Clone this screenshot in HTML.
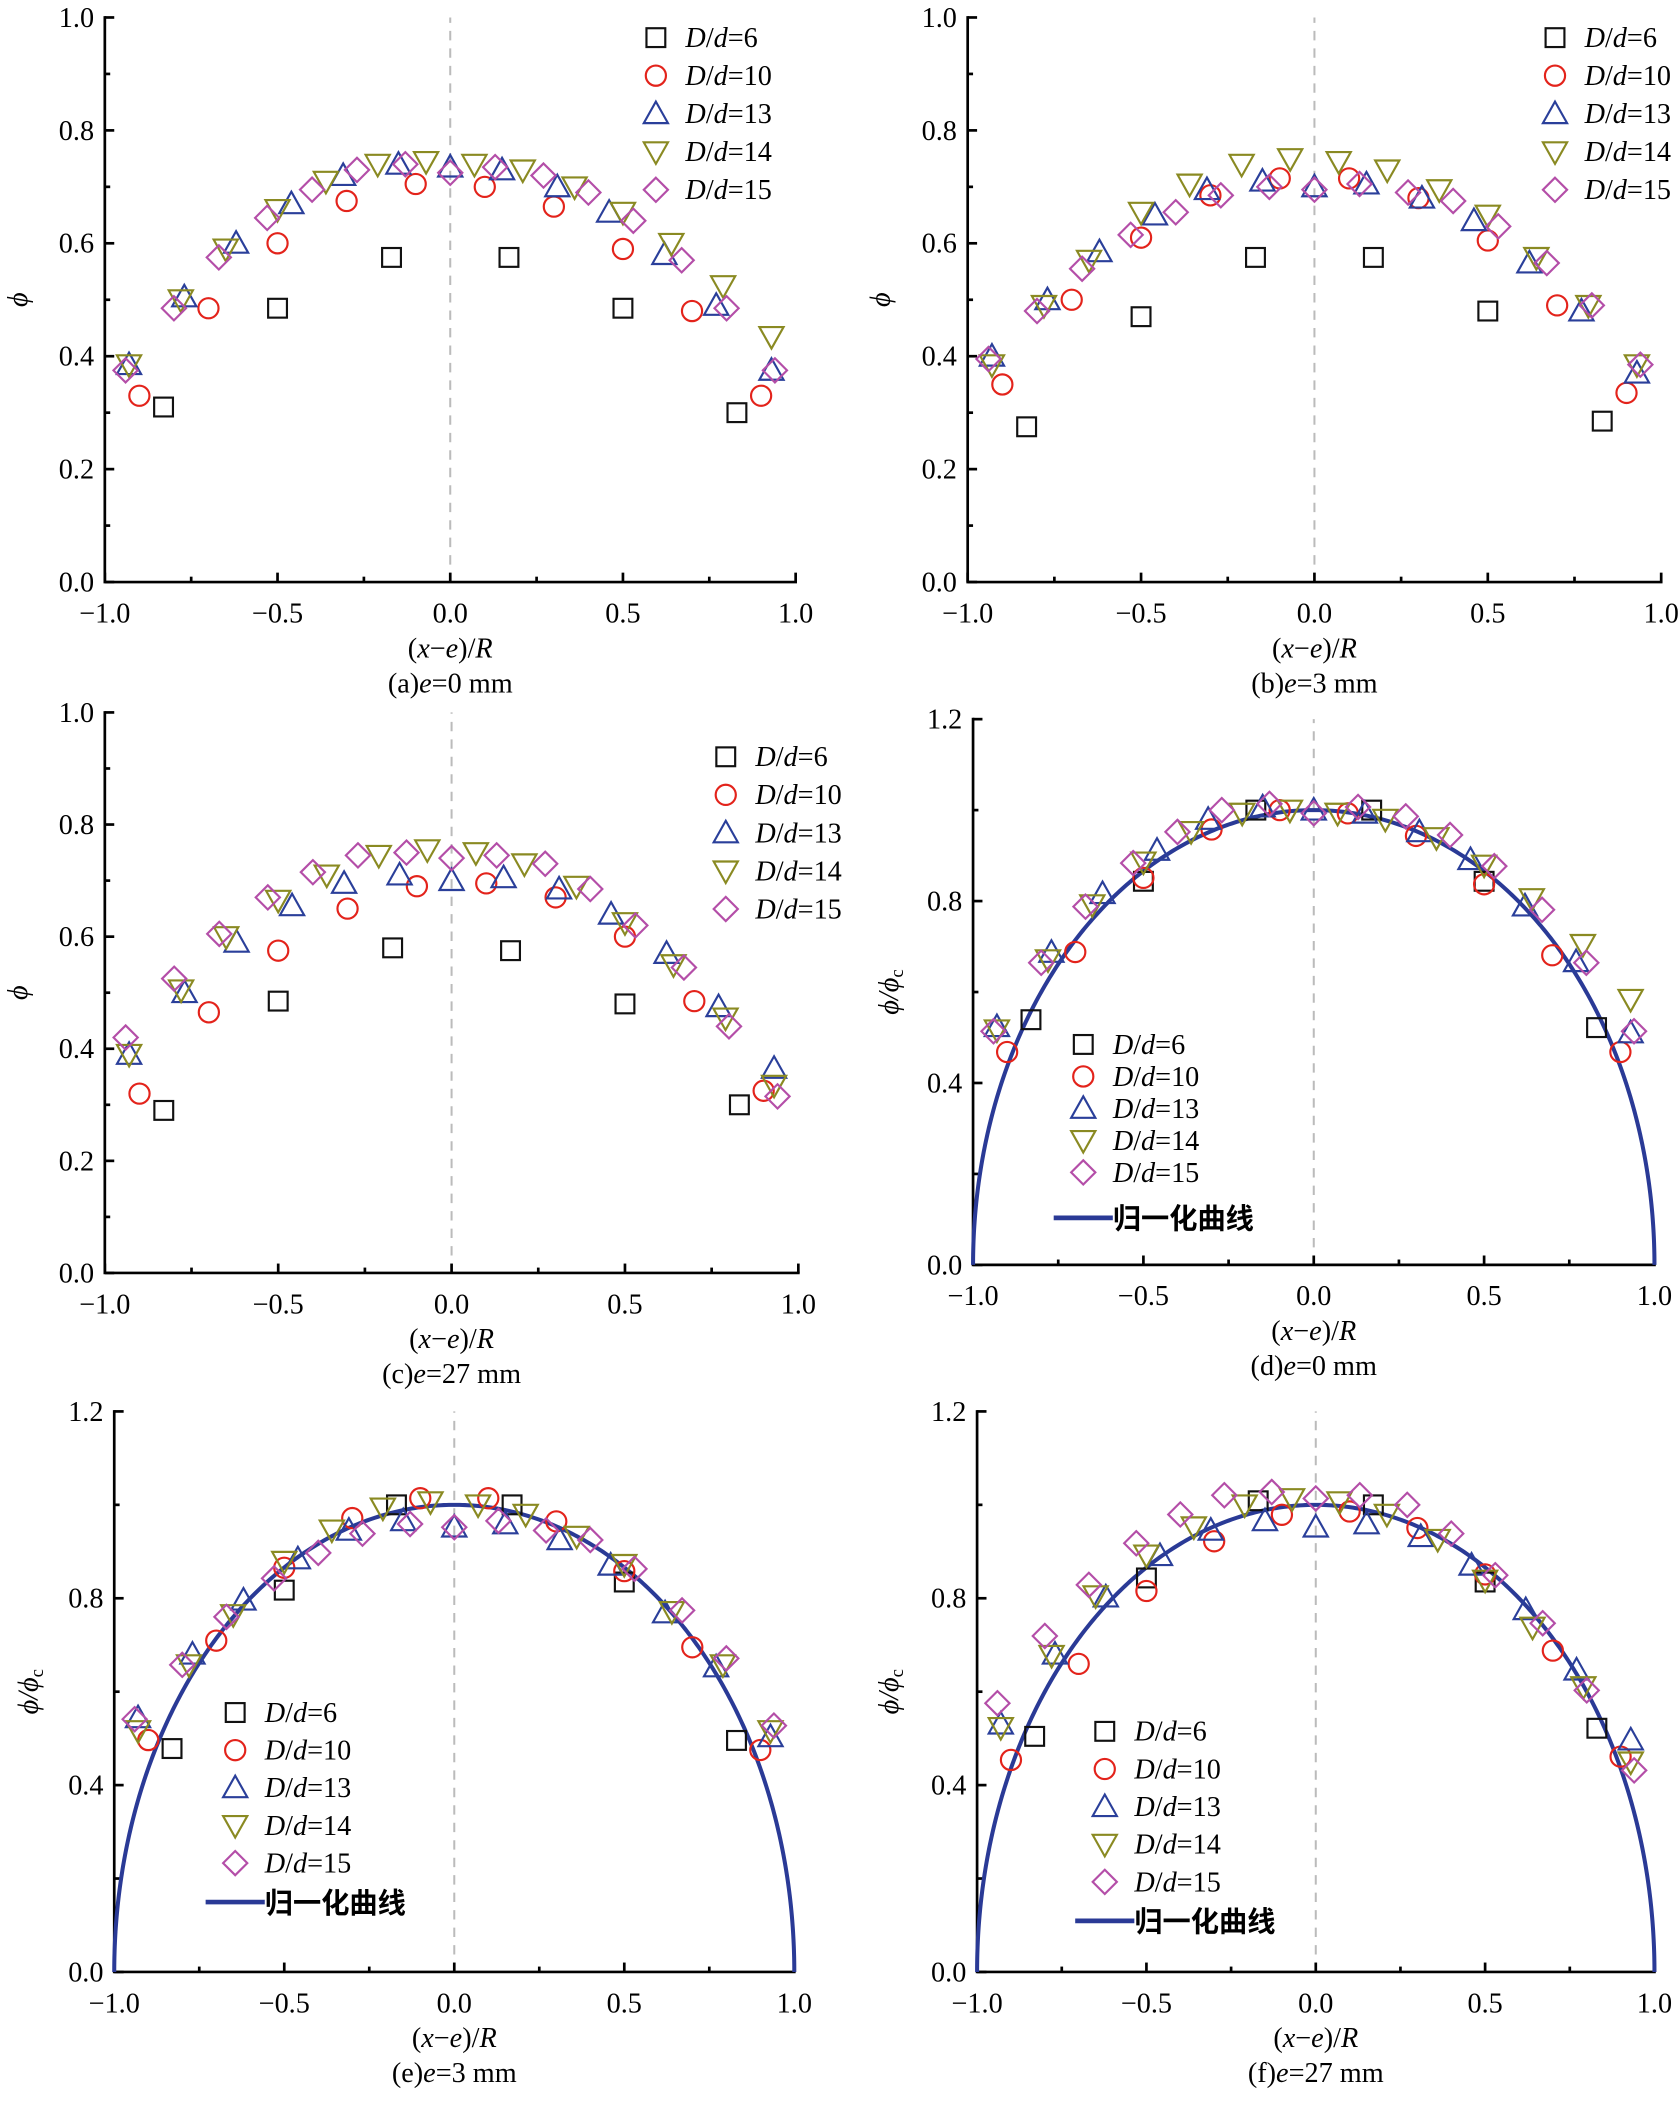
<!DOCTYPE html>
<html><head><meta charset="utf-8"><style>html,body{margin:0;padding:0;background:#fff}svg{display:block}</style></head>
<body>
<svg id="s" xmlns="http://www.w3.org/2000/svg" width="1680" height="2101" viewBox="0 0 1250 1563" preserveAspectRatio="none" font-family="Liberation Serif, 'Noto Serif CJK SC', serif"></svg>
<script>
const S=document.getElementById('s');let h='';
const col={6:'#111',10:'#e3231b',13:'#2a3f9a',14:'#8a8a22',15:'#b44ea8'};
function mk(t,x,y){const c=col[t];
 if(t==6)return `<rect x="${x-7}" y="${y-7}" width="14" height="14" fill="none" stroke="${c}" stroke-width="1.6"/>`;
 if(t==10)return `<circle cx="${x}" cy="${y}" r="7.5" fill="none" stroke="${c}" stroke-width="1.6"/>`;
 if(t==13)return `<polygon points="${x},${y-9} ${x+9},${y+7} ${x-9},${y+7}" fill="none" stroke="${c}" stroke-width="1.6"/>`;
 if(t==14)return `<polygon points="${x},${y+9} ${x+9},${y-7} ${x-9},${y-7}" fill="none" stroke="${c}" stroke-width="1.6"/>`;
 return `<polygon points="${x},${y-9} ${x+9},${y} ${x},${y+9} ${x-9},${y}" fill="none" stroke="${c}" stroke-width="1.6"/>`;}
const A={6:[[-0.83,0.31],[-0.5,0.485],[-0.17,0.575],[0.17,0.575],[0.5,0.485],[0.83,0.30]],
10:[[-0.9,0.33],[-0.7,0.485],[-0.5,0.6],[-0.3,0.675],[-0.1,0.705],[0.1,0.7],[0.3,0.665],[0.5,0.59],[0.7,0.48],[0.9,0.33]],
13:[[-0.93,0.385],[-0.77,0.505],[-0.62,0.6],[-0.46,0.67],[-0.31,0.72],[-0.15,0.74],[0,0.735],[0.15,0.73],[0.31,0.7],[0.46,0.655],[0.62,0.58],[0.77,0.49],[0.93,0.375]],
14:[[-0.93,0.385],[-0.78,0.5],[-0.65,0.59],[-0.5,0.66],[-0.36,0.71],[-0.21,0.74],[-0.07,0.745],[0.07,0.74],[0.21,0.73],[0.36,0.7],[0.5,0.655],[0.64,0.6],[0.79,0.525],[0.93,0.435]],
15:[[-0.94,0.375],[-0.8,0.485],[-0.67,0.575],[-0.53,0.645],[-0.4,0.695],[-0.27,0.73],[-0.13,0.74],[0,0.725],[0.13,0.735],[0.27,0.72],[0.4,0.69],[0.53,0.64],[0.67,0.57],[0.8,0.485],[0.94,0.375]]};
const B={6:[[-0.83,0.275],[-0.5,0.47],[-0.17,0.575],[0.17,0.575],[0.5,0.48],[0.83,0.285]],
10:[[-0.9,0.35],[-0.7,0.5],[-0.5,0.61],[-0.3,0.685],[-0.1,0.715],[0.1,0.715],[0.3,0.68],[0.5,0.605],[0.7,0.49],[0.9,0.335]],
13:[[-0.93,0.4],[-0.77,0.5],[-0.62,0.585],[-0.46,0.65],[-0.31,0.695],[-0.15,0.71],[0,0.7],[0.15,0.705],[0.31,0.68],[0.46,0.64],[0.62,0.565],[0.77,0.48],[0.93,0.37]],
14:[[-0.93,0.385],[-0.78,0.49],[-0.65,0.57],[-0.5,0.655],[-0.36,0.705],[-0.21,0.74],[-0.07,0.75],[0.07,0.745],[0.21,0.73],[0.36,0.695],[0.5,0.65],[0.64,0.575],[0.79,0.49],[0.93,0.385]],
15:[[-0.94,0.395],[-0.8,0.48],[-0.67,0.555],[-0.53,0.615],[-0.4,0.655],[-0.27,0.685],[-0.13,0.7],[0,0.695],[0.13,0.705],[0.27,0.69],[0.4,0.675],[0.53,0.63],[0.67,0.565],[0.8,0.49],[0.94,0.385]]};
const C={6:[[-0.83,0.29],[-0.5,0.485],[-0.17,0.58],[0.17,0.575],[0.5,0.48],[0.83,0.3]],
10:[[-0.9,0.32],[-0.7,0.465],[-0.5,0.575],[-0.3,0.65],[-0.1,0.69],[0.1,0.695],[0.3,0.67],[0.5,0.6],[0.7,0.485],[0.9,0.325]],
13:[[-0.93,0.39],[-0.77,0.5],[-0.62,0.59],[-0.46,0.655],[-0.31,0.695],[-0.15,0.71],[0,0.7],[0.15,0.705],[0.31,0.685],[0.46,0.64],[0.62,0.57],[0.77,0.475],[0.93,0.365]],
14:[[-0.93,0.39],[-0.78,0.505],[-0.65,0.6],[-0.5,0.665],[-0.36,0.71],[-0.21,0.745],[-0.07,0.755],[0.07,0.75],[0.21,0.73],[0.36,0.69],[0.5,0.625],[0.64,0.55],[0.79,0.455],[0.93,0.335]],
15:[[-0.94,0.42],[-0.8,0.525],[-0.67,0.605],[-0.53,0.67],[-0.4,0.715],[-0.27,0.745],[-0.13,0.75],[0,0.74],[0.13,0.745],[0.27,0.73],[0.4,0.685],[0.53,0.62],[0.67,0.545],[0.8,0.44],[0.94,0.315]]};
const CEN={6:0.575,10:0.705,13:0.735,14:0.745,15:0.73};
function norm(D){const o={};for(const k in D)o[k]=D[k].map(p=>[p[0],p[1]/CEN[k]]);return o;}
function panel(P){const {x0,x1,y0,y1,ym,D,lx,ly,ld,cap,norm:nm,ylx,liney}=P;
 const X=v=>x0+(v+1)/2*(x1-x0),Y=v=>y0-(v/ym)*(y0-y1);
 h+=`<line x1="${X(0)}" y1="${y0}" x2="${X(0)}" y2="${y1}" stroke="#bbb" stroke-width="1.5" stroke-dasharray="7,6"/>`;
 h+=`<path d="M${x0} ${y1-1}V${y0}H${x1+1}" fill="none" stroke="#000" stroke-width="2"/>`;
 for(let v=-1;v<=1.001;v+=0.25){const maj=Math.abs(v*2-Math.round(v*2))<1e-6;h+=`<line x1="${X(v)}" y1="${y0}" x2="${X(v)}" y2="${y0-(maj?7:4)}" stroke="#000" stroke-width="2"/>`;
  if(maj)h+=`<text x="${X(v)}" y="${y0+30}" font-size="21" text-anchor="middle">${v<0?'−':''}${Math.abs(v).toFixed(1)}</text>`;}
 const st=ym==1?0.1:0.2;
 for(let i=0;i*st<=ym+1e-6;i++){const v=i*st,maj=i%2==0;h+=`<line x1="${x0}" y1="${Y(v)}" x2="${x0+(maj?7:4)}" y2="${Y(v)}" stroke="#000" stroke-width="2"/>`;
  if(maj)h+=`<text x="${x0-8}" y="${Y(v)+7}" font-size="21" text-anchor="end">${v.toFixed(1)}</text>`;}
 const cx=(x0+x1)/2;
 h+=`<text x="${cx}" y="${y0+56}" font-size="21" text-anchor="middle">(<tspan font-style="italic">x</tspan>−<tspan font-style="italic">e</tspan>)/<tspan font-style="italic">R</tspan></text>`;
 h+=`<text x="${cx}" y="${y0+82}" font-size="21" text-anchor="middle">(${cap[0]})<tspan font-style="italic">e</tspan>=${cap[1]} mm</text>`;
 const my=(y0+y1)/2;
 h+=`<text transform="translate(${ylx},${my}) rotate(-90)" font-size="21" font-style="italic" text-anchor="middle">${nm?'ϕ/ϕ<tspan font-size="14" font-style="normal" dy="4">c</tspan>':'ϕ'}</text>`;
 if(nm){let d='';for(let i=0;i<=400;i++){const t=Math.PI*i/400,x=-Math.cos(t),y=Math.sin(t);d+=(i?'L':'M')+X(x).toFixed(2)+' '+Y(y).toFixed(2);}
  h+=`<path d="${d}" fill="none" stroke="#2a3a96" stroke-width="3"/>`;}
 for(const k of [6,10,13,14,15])for(const p of D[k])h+=mk(+k,X(p[0]),Y(p[1]));
 [6,10,13,14,15].forEach((k,i)=>{const yy=ly+i*ld;h+=mk(k,lx,yy)+`<text x="${lx+22}" y="${yy+7}" font-size="21"><tspan font-style="italic">D</tspan>/<tspan font-style="italic">d</tspan>=${k}</text>`;});
 if(nm){const yy=liney;h+=`<line x1="${lx-22}" y1="${yy}" x2="${lx+22}" y2="${yy}" stroke="#2a3a96" stroke-width="3.5"/><text x="${lx+22}" y="${yy+8}" font-size="21" font-weight="bold" font-family="'Noto Sans CJK SC',sans-serif">归一化曲线</text>`;}
}
panel({x0:78,x1:592,y0:433,y1:13,ym:1,D:A,lx:488,ly:28,ld:28.3,cap:['a','0'],ylx:20});
panel({x0:720,x1:1236,y0:433,y1:13,ym:1,D:B,lx:1157,ly:28,ld:28.3,cap:['b','3'],ylx:662});
panel({x0:78,x1:594,y0:947,y1:530,ym:1,D:C,lx:540,ly:563,ld:28.3,cap:['c','27'],ylx:20});
panel({x0:724,x1:1231,y0:941,y1:535,ym:1.2,D:norm(A),lx:806,ly:777,ld:23.8,cap:['d','0'],ylx:668,norm:1,liney:906});
panel({x0:85,x1:591,y0:1467,y1:1050,ym:1.2,D:norm(B),lx:175,ly:1274,ld:28,cap:['e','3'],ylx:28,norm:1,liney:1415});
panel({x0:727,x1:1231,y0:1467,y1:1050,ym:1.2,D:norm(C),lx:822,ly:1288,ld:28,cap:['f','27'],ylx:668,norm:1,liney:1429});
S.innerHTML=h;
</script>
</body></html>
